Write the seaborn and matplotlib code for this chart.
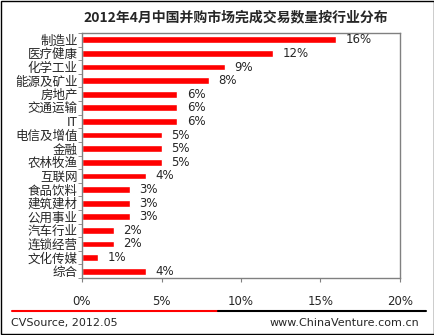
import matplotlib
matplotlib.use("Agg")
import matplotlib.pyplot as plt
import seaborn as sns
import numpy as np
import pandas as pd
from matplotlib.lines import Line2D
from matplotlib.patches import Rectangle

categories = ["制造业", "医疗健康", "化学工业", "能源及矿业", "房地产", "交通运输", "IT",
              "电信及增值", "金融", "农林牧渔", "互联网", "食品饮料", "建筑建材", "公用事业",
              "汽车行业", "连锁经营", "文化传媒", "综合"]
values = [16, 12, 9, 8, 6, 6, 6, 5, 5, 5, 4, 3, 3, 3, 2, 2, 1, 4]
xticks = [0, 5, 10, 15, 20]
xticklabels = ["0%", "5%", "10%", "15%", "20%"]
title = "2012年4月中国并购市场完成交易数量按行业分布"
source = "CVSource, 2012.05"
site = "www.ChinaVenture.com.cn"

sns.set_style("white")
plt.rcParams['font.family'] = ['Noto Sans CJK SC', 'DejaVu Sans']

df = pd.DataFrame({"cat": categories, "val": values})

fig = plt.figure(figsize=(4.35, 3.35), dpi=100)
ax = fig.add_axes([82/435, 1-278/335, (400-82)/435, (278-33)/335])
sns.barplot(data=df, x="val", y="cat", color="#FF0000", saturation=1, width=0.5,
            ax=ax, orient="h")
ax.set_xlim(0, 20)
ax.set_ylim(len(categories)-0.5, -0.5)
ax.set_xlabel("")
ax.set_ylabel("")
ax.set_xticks(xticks)
ax.set_xticklabels(xticklabels, fontsize=8.5, family="DejaVu Sans")
ax.set_yticks(range(len(categories)))
ax.set_yticklabels(categories, fontsize=9)
ax.set_yticks(np.arange(-0.5, len(categories), 1), minor=True)
ax.tick_params(axis="y", which="major", length=0, pad=3)
ax.tick_params(axis="y", which="minor", length=3, color="#808080", direction="out", left=True)
ax.tick_params(axis="x", which="major", length=3, color="#808080", direction="out", bottom=True, pad=9)
for s in ax.spines.values():
    s.set_color("#808080")
    s.set_linewidth(1)
    s.set_visible(True)

for i, v in enumerate(values):
    ax.text(v + 0.6, i, f"{v}%", va="center", ha="left", fontsize=8.5, family="DejaVu Sans")

fig.text(236/435, 1-17/335, title, ha="center", va="center", fontsize=10, fontweight="bold")

# bottom line
fig.add_artist(Line2D([12/435, 218/435], [1-311/335, 1-311/335], color="#FF0000", lw=1.5))
fig.add_artist(Line2D([218/435, 426/435], [1-311/335, 1-311/335], color="black", lw=1.5))
fig.text(11/435, 1-323/335, source, ha="left", va="center", fontsize=8, family="DejaVu Sans")
fig.text(419/435, 1-323/335, site, ha="right", va="center", fontsize=8, family="DejaVu Sans")

# outer frame
fig.add_artist(Rectangle((0.002, 0.003), 0.995, 0.994, transform=fig.transFigure,
                         fill=False, edgecolor="black", lw=1))

fig.savefig("out.png", dpi=100)
